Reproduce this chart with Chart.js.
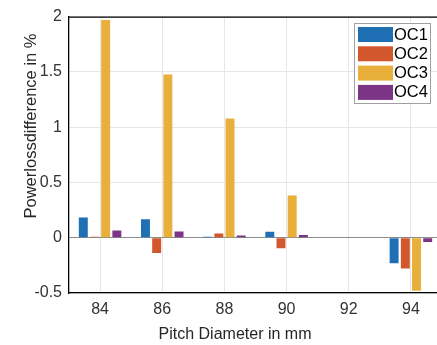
<!DOCTYPE html>
<html>
<head>
<meta charset="utf-8">
<script src="https://cdn.jsdelivr.net/npm/chart.js@4"></script>
<style>
html,body{margin:0;padding:0;background:#fff;overflow:hidden;}
#wrap{position:relative;width:442px;height:345px;}
</style>
</head>
<body>
<div id="wrap"><canvas id="c" width="442" height="345"></canvas></div>
<script>
const categories = ['84', '86', '88', '90', '92', '94'];
const seriesNames = ['OC1', 'OC2', 'OC3', 'OC4'];
const oc1 = [0.183, 0.168, 0.008, 0.054, 0, -0.232];
const oc2 = [0.008, -0.138, 0.039, -0.096, 0, -0.279];
const oc3 = [1.97, 1.476, 1.079, 0.383, 0, -0.479];
const oc4 = [0.065, 0.056, 0.02, 0.024, 0, -0.038];
const yTicks = [-0.5, 0, 0.5, 1, 1.5, 2];
const colors = ['#1f6fb4', '#d3572d', '#e8b03a', '#7c3486'];
const xTitle = 'Pitch Diameter in mm';
const yTitle = 'Powerlossdifference in %';

const FONT = '"Liberation Sans", Arial, Helvetica, sans-serif';
const values = [oc1, oc2, oc3, oc4];

const overlay = {
  id: 'overlay',
  afterDraw(chart) {
    const ctx = chart.ctx;
    const a = chart.chartArea;
    ctx.save();
    // top box line
    ctx.strokeStyle = '#000';
    ctx.lineWidth = 1.3;
    ctx.beginPath();
    ctx.moveTo(a.left, a.top + 0.5);
    ctx.lineTo(a.right, a.top + 0.5);
    ctx.stroke();
    // axis titles
    ctx.fillStyle = '#262626';
    ctx.font = '16px ' + FONT;
    ctx.textAlign = 'center';
    ctx.textBaseline = 'middle';
    ctx.fillText(xTitle, 235, 335);
    ctx.save();
    ctx.translate(31, 126);
    ctx.rotate(-Math.PI / 2);
    ctx.font = '16.5px ' + FONT;
    ctx.fillText(yTitle, 0, 0);
    ctx.restore();
    // legend
    const lx = 354, ly = 23, lw = 76, lh = 80;
    ctx.fillStyle = '#fff';
    ctx.fillRect(lx, ly, lw, lh);
    ctx.strokeStyle = '#a0a0a0';
    ctx.lineWidth = 1;
    ctx.strokeRect(lx + 0.5, ly + 0.5, lw, lh);
    ctx.font = '16.5px ' + FONT;
    ctx.textAlign = 'left';
    chart.data.datasets.forEach((ds, i) => {
      const ry = ly + 4 + i * 19.3;
      ctx.fillStyle = ds.backgroundColor;
      ctx.fillRect(lx + 4, ry, 35, 15);
      ctx.fillStyle = '#000';
      ctx.fillText(ds.label, lx + 40, ry + 8);
    });
    ctx.restore();
  }
};

new Chart(document.getElementById('c'), {
  type: 'bar',
  data: {
    labels: categories,
    datasets: seriesNames.map((n, i) => ({
      label: n,
      data: values[i],
      backgroundColor: colors[i],
      borderWidth: 0,
      categoryPercentage: 0.72,
      barPercentage: 0.8
    }))
  },
  options: {
    responsive: false,
    animation: false,
    devicePixelRatio: 1,
    layout: { padding: { top: 12, right: 0, left: 0, bottom: 0 } },
    plugins: { legend: { display: false }, tooltip: { enabled: false } },
    scales: {
      x: {
        offset: true,
        grid: { offset: false, color: '#e6e6e6', drawTicks: false },
        border: { color: '#000', width: 1.3 },
        ticks: { color: '#333333', font: { size: 16, family: FONT }, padding: 7 },
        afterFit(s) { s.height = 52; }
      },
      y: {
        min: -0.5,
        max: 2,
        afterBuildTicks(s) { s.ticks = yTicks.map(v => ({ value: v })); },
        grid: {
          drawTicks: false,
          color: c => (c.tick && c.tick.value === 0) ? '#8c8c8c' : '#e6e6e6'
        },
        border: { color: '#000', width: 1.3 },
        ticks: {
          color: '#333333',
          font: { size: 16, family: FONT },
          padding: 7,
          callback: v => String(v)
        },
        afterFit(s) { s.width = 69; }
      }
    }
  },
  plugins: [overlay]
});
</script>
</body>
</html>
